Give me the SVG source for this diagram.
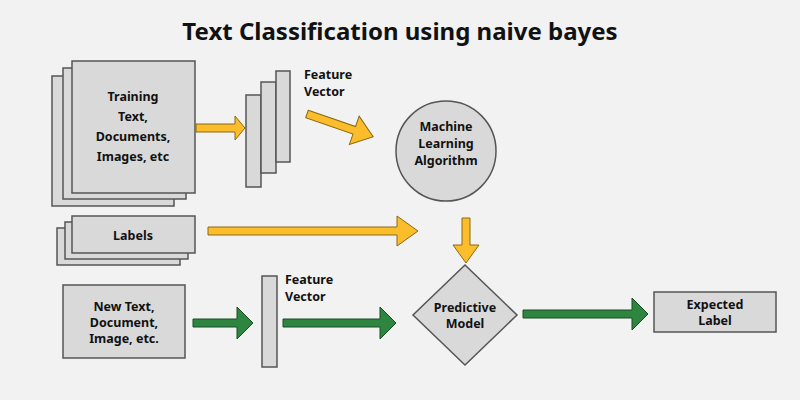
<svg xmlns="http://www.w3.org/2000/svg" width="800" height="400" viewBox="0 0 800 400">
<style>
.b{fill:#d9d9d9;stroke:#555;stroke-width:1.5}
.t{font-family:"Noto Sans",sans-serif;font-weight:bold;font-size:12.5px;fill:#111;text-anchor:middle}
.y{fill:#fbbd2b;stroke:#8a6a10;stroke-width:1}
.g{fill:#2e8540;stroke:#1a4d25;stroke-width:1}
</style>
<rect width="800" height="400" fill="#f2f2f2"/>
<text x="400" y="40" style="font-family:'Noto Sans',sans-serif;font-weight:bold;font-size:24px;text-anchor:middle;fill:#111">Text Classification using naive bayes</text>
<g id="training">
<rect class="b" x="52" y="76" width="122" height="130"/>
<rect class="b" x="63" y="68" width="123" height="131"/>
<rect class="b" x="72" y="61" width="123" height="132"/>
<text class="t" x="133" y="101">Training</text>
<text class="t" x="133" y="121">Text,</text>
<text class="t" x="133" y="141">Documents,</text>
<text class="t" x="133" y="161">Images, etc</text>
</g>
<g id="labels">
<rect class="b" x="57" y="228" width="123" height="37"/>
<rect class="b" x="65" y="222" width="123" height="37"/>
<rect class="b" x="72" y="216" width="123" height="37"/>
<text class="t" x="133" y="240">Labels</text>
</g>
<g id="fv1">
<rect class="b" x="246" y="95" width="15" height="92"/>
<rect class="b" x="261" y="82" width="15" height="91"/>
<rect class="b" x="276" y="71" width="14" height="91"/>
<text class="t" x="304" y="79" style="text-anchor:start">Feature</text>
<text class="t" x="304" y="96" style="text-anchor:start">Vector</text>
</g>
<g id="ml">
<circle class="b" cx="446" cy="151" r="50"/>
<text class="t" x="446" y="131">Machine</text>
<text class="t" x="446" y="148">Learning</text>
<text class="t" x="446" y="165">Algorithm</text>
</g>
<g id="newtext">
<rect class="b" x="63" y="285" width="122" height="73"/>
<text class="t" x="124" y="311">New Text,</text>
<text class="t" x="124" y="327">Document,</text>
<text class="t" x="124" y="343">Image, etc.</text>
</g>
<g id="fv2">
<rect class="b" x="262" y="276" width="15" height="91"/>
<text class="t" x="285" y="284" style="text-anchor:start">Feature</text>
<text class="t" x="285" y="301" style="text-anchor:start">Vector</text>
</g>
<g id="predictive">
<polygon class="b" points="465,265 517,315 465,365 413,315"/>
<text class="t" x="465" y="312">Predictive</text>
<text class="t" x="465" y="328">Model</text>
</g>
<g id="expected">
<rect class="b" x="654" y="292" width="122" height="40"/>
<text class="t" x="715" y="309">Expected</text>
<text class="t" x="715" y="325">Label</text>
</g>
<g id="connectors">
<polygon class="y" points="196,124 235,124 235,116 245,128 235,140 235,132 196,132"/>
<polygon class="y" transform="rotate(19 307 114)" points="307,110 357,110 357,99 377,114 357,129 357,118 307,118"/>
<polygon class="y" points="208,227 397,227 397,216 418,231 397,246 397,235 208,235"/>
<polygon class="y" points="462,218 470,218 470,245 479,245 466,263 453,245 462,245"/>
<polygon class="g" points="193,319 237,319 237,307 253,323 237,339 237,327 193,327"/>
<polygon class="g" points="283,319 380,319 380,307 396,323 380,339 380,327 283,327"/>
<polygon class="g" points="523,310 632,310 632,298 648,314 632,330 632,318 523,318"/>
</g>
</svg>
